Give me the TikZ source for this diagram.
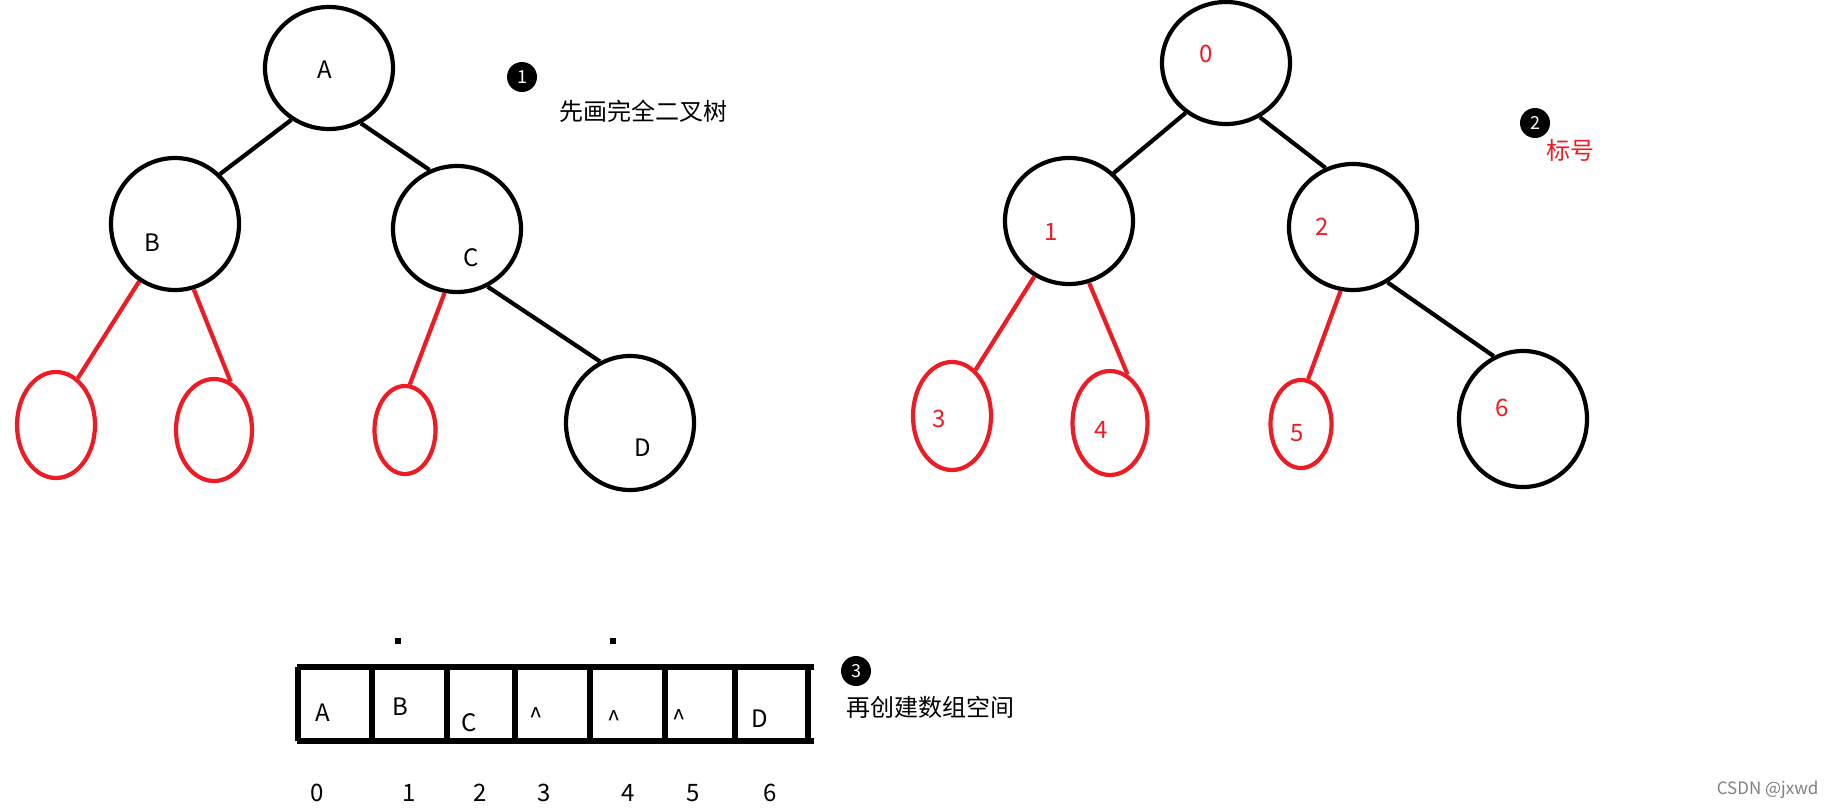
\documentclass[tikz,border=0pt]{standalone}
\usepackage{fontspec}
\setmainfont{Noto Sans CJK SC}
\usetikzlibrary{shapes.geometric}
\definecolor{paintred}{RGB}{237,28,36}

\begin{document}
\begin{tikzpicture}[x=1pt, y=-1pt, font=\fontsize{24}{28}\selectfont,
  tnode/.style={ellipse, line width=4.2pt, inner sep=0pt},
  edge/.style={line width=4.2pt},
  stepno/.style={circle, fill=black, text=white, inner sep=0pt, minimum size=30pt, font=\fontsize{18}{20}\selectfont},
  cell/.style={line width=5.4pt}]
  \useasboundingbox (0,0) rectangle (1834,809);
  % ---------------- (1) complete binary tree with letters ----------------
  \foreach \n/\x/\y/\w/\h/\c in {tA/329/68/128/122/black, tB/175/224/128/132/black,
      tC/457/229/128/126/black, tL1/56/425/78/106/paintred, tL2/214/430/76/102/paintred,
      tL3/405/430/61/88/paintred, tD/630/423/128/134/black}
    \node[tnode, draw=\c, minimum width=\w pt, minimum height=\h pt] (\n) at (\x,\y) {};
  \foreach \a/\p/\b/\q/\c in {tA/234/tB/48/black, tA/-60/tC/115/black, tB/238/tL1/65/paintred,
      tB/-74/tL2/71/paintred, tC/-101/tL3/84/paintred, tC/-62/tD/116/black}
    \draw[edge, \c] (\a.\p) -- (\b.\q);
  \foreach \n/\x/\y/\t in {lA/325/70/A, lB/152/243/B, lC/471/258/C, lD/643/448/D}
    \node (\n) at (\x,\y) {\t};
  \node[stepno] (s1) at (522,77) {1};
  \node[anchor=west] (t1) at (556,111) {先画完全二叉树};
  % ---------------- (2) the same tree, numbered ----------------
  \foreach \n/\x/\y/\w/\h/\c in {n0/1226/63/128/122/black, n1/1069/221/128/126/black,
      n2/1353/227/128/126/black, n3/952/416/78/108/paintred, n4/1110/423/75/104/paintred,
      n5/1301/424/61/88/paintred, n6/1523/419/128/136/black}
    \node[tnode, draw=\c, minimum width=\w pt, minimum height=\h pt] (\n) at (\x,\y) {};
  \foreach \a/\p/\b/\q/\c in {n0/231/n1/47/black, n0/-58/n2/115/black, n1/238/n3/63/paintred,
      n1/-72/n4/70/paintred, n2/-101/n5/81/paintred, n2/-58/n6/115/black}
    \draw[edge, \c] (\a.\p) -- (\b.\q);
  \foreach \n/\x/\y/\t in {m0/1206/54/0, m1/1051/232/1, m2/1322/227/2, m3/939/419/3,
      m4/1101/430/4, m5/1297/433/5, m6/1502/408/6}
    \node[paintred] (\n) at (\x,\y) {\t};
  \node[stepno] (s2) at (1535,123) {2};
  \node[anchor=west, paintred] (t2) at (1543,150) {标号};
  % ---------------- (3) the array ----------------
  \draw[cell] (297,667) -- (814,667);
  \draw[cell] (297,741) -- (814,741);
  \foreach \x in {298,372,447,515,590,665,735,808}
    \draw[cell] (\x,667) -- (\x,741);
  \foreach \n/\x/\y/\t in {a0/323/721/A, a1/400/715/B, a2/469/731/C, a3/536/725/\textasciicircum,
      a4/614/728/\textasciicircum, a5/679/727/\textasciicircum, a6/760/727/D}
    \node[anchor=base] (\n) at (\x,\y) {\t};
  \foreach \n/\x/\t in {i0/317/0, i1/409/1, i2/480/2, i3/544/3, i4/628/4, i5/693/5, i6/770/6}
    \node[anchor=base] (\n) at (\x,801) {\t};
  \node[fill, inner sep=0pt, minimum size=6pt] (d1) at (398,641) {};
  \node[fill, inner sep=0pt, minimum size=6pt] (d2) at (613,641) {};
  \node[stepno] (s3) at (856,671) {3};
  \node[anchor=west] (t3) at (843,707) {再创建数组空间};
  \node[anchor=east, text=gray, font=\fontsize{17}{20}\selectfont] (wm) at (1822,790) {CSDN @jxwd};
\end{tikzpicture}
\end{document}
